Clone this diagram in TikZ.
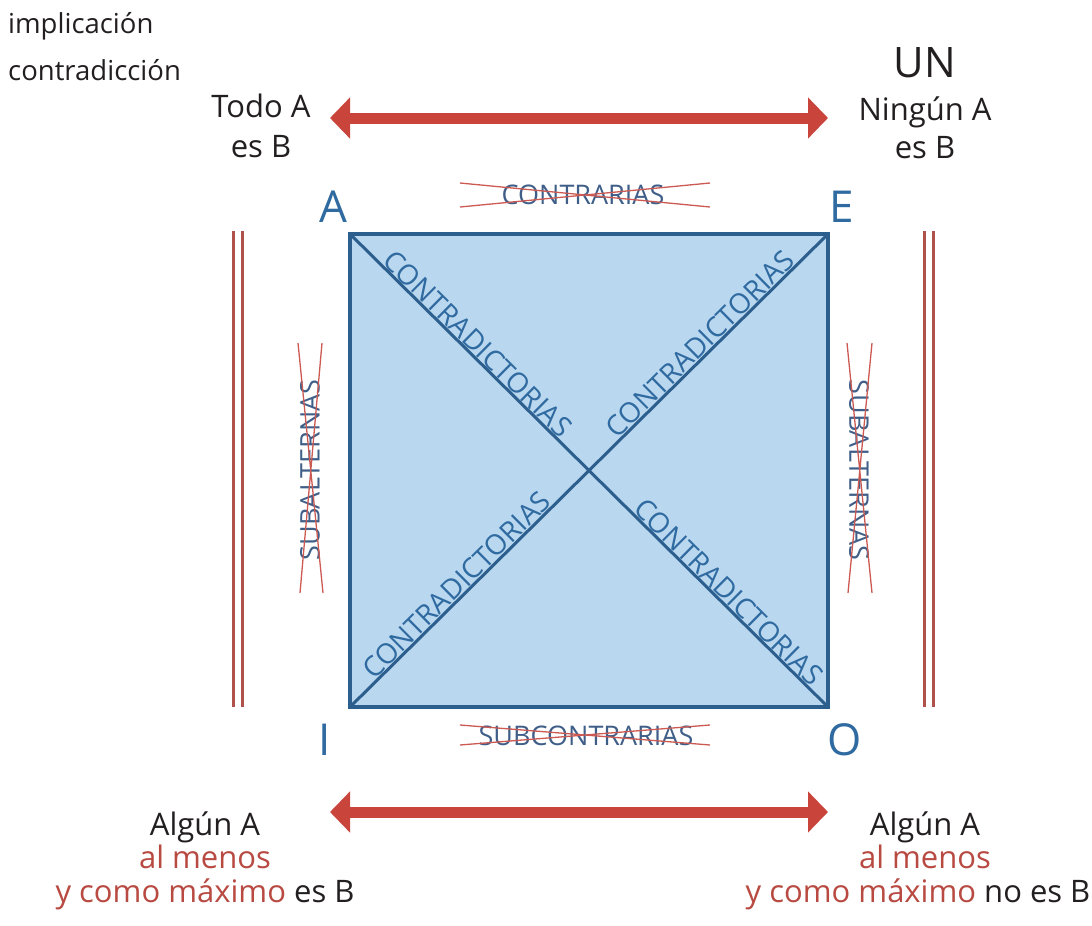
\documentclass[tikz,border=0pt]{standalone}
\usepackage{fontspec}
\setmainfont{Open Sans}
\usetikzlibrary{arrows.meta}
\definecolor{sqfill}{HTML}{B9D7EF}
\definecolor{sqline}{HTML}{2C5F8E}
\definecolor{letblue}{HTML}{2F6AA0}
\definecolor{arrred}{HTML}{C9443B}
\definecolor{dblred}{HTML}{B0524C}
\definecolor{txtred}{HTML}{B84A42}
\definecolor{txtdark}{HTML}{231F20}
\definecolor{strikered}{HTML}{CC5A52}
\definecolor{crosstxt}{HTML}{3F5F88}
\tikzset{
  cornerlet/.style={font=\fontsize{44}{44}\selectfont, text=letblue, inner sep=0pt},
  diaglbl/.style={font=\fontsize{28}{28}\selectfont, text=letblue, inner sep=1.5pt, sloped, above},
  crosslbl/.style={font=\fontsize{27}{27}\selectfont, text=crosstxt, inner sep=0pt},
  strike/.style={strikered, line width=1.3pt},
  dblline/.style={dblred, line width=3pt},
  bigarrow/.style={arrred, line width=11pt, {Triangle[width=40pt,length=20pt]}-{Triangle[width=40pt,length=20pt]}},
  prop/.style={font=\fontsize{31}{31}\selectfont, text=txtdark, anchor=base, inner sep=0pt},
  small/.style={font=\fontsize{27.5}{27.5}\selectfont, text=txtdark, anchor=base west, inner sep=0pt},
}
\begin{document}
\begin{tikzpicture}[x=1pt,y=-1pt]
\fill[white] (0,0) rectangle (1092,926);
\useasboundingbox (0,0) rectangle (1092,926);
% legend
\node[small] (leg1) at (8,33) {implicación};
\node[small] (leg2) at (8,80) {contradicción};
% square
\coordinate (cA) at (350,234);
\coordinate (cE) at (828,234);
\coordinate (cI) at (350,707);
\coordinate (cO) at (828,707);
\coordinate (cM) at (589,470.5);
\filldraw[fill=sqfill, draw=sqline, line width=4pt] (cA) rectangle (cO);
\draw[sqline, line width=3pt] (cA) -- (cO) (cE) -- (cI);
\path (cA) -- node[diaglbl, pos=0.5] (d1) {CONTRADICTORIAS} (cM);
\path (cM) -- node[diaglbl, pos=0.5] (d2) {CONTRADICTORIAS} (cE);
\path (cI) -- node[diaglbl, pos=0.48] (d3) {CONTRADICTORIAS} (cM);
\path (cM) -- node[diaglbl, pos=0.55] (d4) {CONTRADICTORIAS} (cO);
% corner letters
\node[cornerlet] (A) at (333,207) {A};
\node[cornerlet] (E) at (842,207) {E};
\node[cornerlet] (I) at (325,740) {I};
\node[cornerlet] (O) at (845,740) {O};
% crossed labels
\node[crosslbl] (contr) at (583,195) {CONTRARIAS};
\draw[strike] (460,183) -- (710,207) (460,207) -- (710,183);
\node[crosslbl] (subc) at (586,736) {SUBCONTRARIAS};
\draw[strike] (460,725) -- (710,745) (460,745) -- (710,725);
\node[crosslbl, rotate=90] (subL) at (310,470) {SUBALTERNAS};
\draw[strike] (298,343) -- (323,593) (322,343) -- (300,593);
\node[crosslbl, rotate=-90] (subR) at (859,470) {SUBALTERNAS};
\draw[strike] (847,343) -- (872,593) (872,343) -- (848,593);
% double lines
\draw[dblline] (233,231) -- (233,707) (242,231) -- (242,707);
\draw[dblline] (924,231) -- (924,707) (933,231) -- (933,707);
% arrows
\coordinate (tl) at (330,118);
\coordinate (tr) at (828,118);
\coordinate (bl) at (330,812);
\coordinate (br) at (828,812);
\draw[bigarrow] (tl) -- (tr);
\draw[bigarrow] (bl) -- (br);
% propositions
\node[prop] (todo1) at (261,117) {Todo A};
\node[prop] (todo2) at (261,157) {es B};
\node[prop, font=\fontsize{42}{42}\selectfont] (un) at (925,77) {UN};
\node[prop] (ning1) at (925,120) {Ningún A};
\node[prop] (ning2) at (925,158) {es B};
\node[prop] (alg1) at (205,835) {Algún A};
\node[prop, text=txtred] (alg2) at (205,868) {al menos};
\node[prop] (alg3) at (205,902) {\textcolor{txtred}{y como máximo} es B};
\node[prop] (alr1) at (925,835) {Algún A};
\node[prop, text=txtred] (alr2) at (925,868) {al menos};
\node[prop] (alr3) at (918,902) {\textcolor{txtred}{y como máximo} no es B};
\end{tikzpicture}
\end{document}
